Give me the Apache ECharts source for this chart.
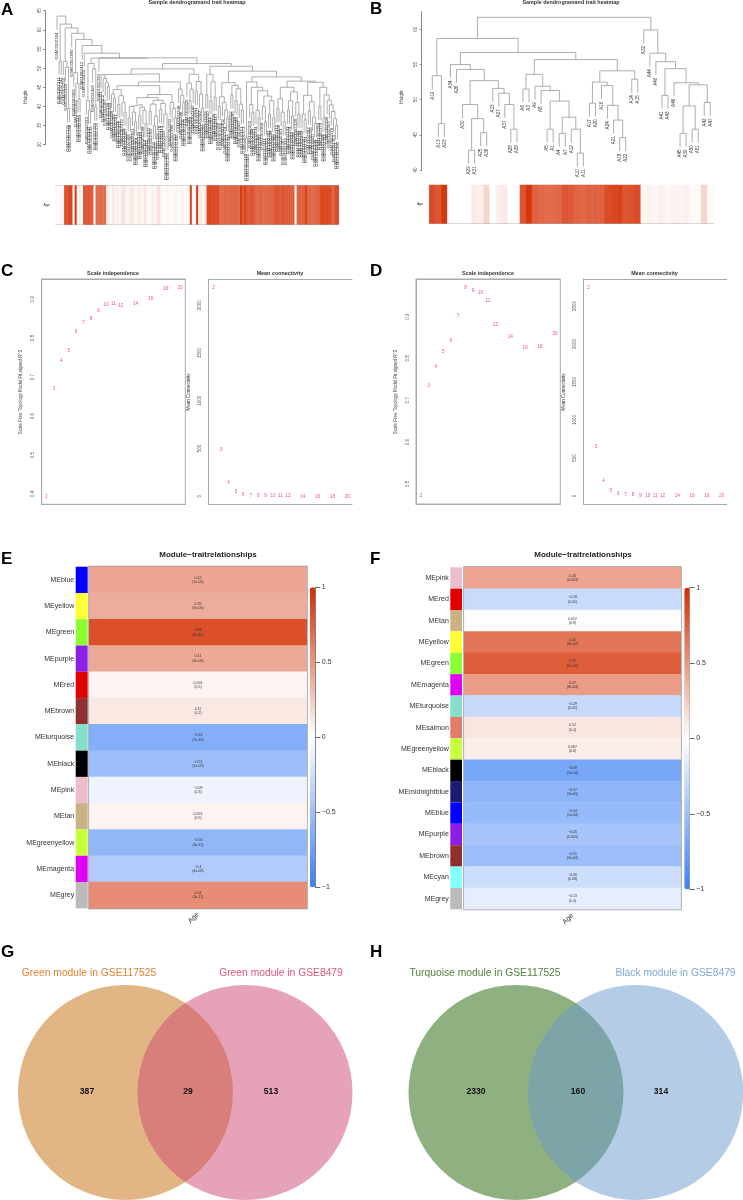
<!DOCTYPE html>
<html>
<head>
<meta charset="utf-8">
<style>
  html, body { margin: 0; padding: 0; background: #fff; }
  #main { width: 743px; height: 1200px; }
</style>
<script src="https://cdn.jsdelivr.net/npm/echarts@6/dist/echarts.min.js"></script>
</head>
<body>
<div id="main"></div>
<script>
// ---------- dendrogram A: [height, left, right], a bare number is a leaf (GSM3302xxx)
var a_s1 = [48.3, 321, [47.3, 352, [46.2, 367, [45.2, 299, 344]]]];
var a_p = [44.4, [43.2, 408, [42.2, 283, 391]], [42.8, [40.5, 336, 415], [41, 372, [38.5, 309, 427]]]];
var a_r1 = [42.3,
  [40.5, [40, [37, 358, 296], [38.5, 401, [36, 325, 384]]], [39.8, [37.6, 339, 410], [39, 288, [35.5, 364, 431]]]],
  [41.6, [40.6, [38.7, 307, 397], [37.4, [35, 350, 422], 291]], [40.8, [39.2, 378, 314], [38, 403, [32.1, 360, 335]]]]];
var a_r2 = [41, 293, [39.5, 386, [37, 319, 436]]];
var a_s3 = [44.5, 348, [42.9, 399, [41, 306, 375]]];
var a_a2 = [48.4, [46.1, 420, [44.5, [41.5, 285, 369], 340]], [46.5, [44, 413, 327], [43.2, 392, [39.6, 302, 355]]]];
var a_c1 = [48.4, [43, 434, 310], [46.4, [41.5, 381, 297], [42.4, 345, 417]]];
var a_c21 = [46.2,
  [42.5, [40, 289, 365], [41, 402, [39, 324, [37, 377, 430]]]],
  [45.5, [43, 312, 395], [44.6, [41.5, 338, 286], [40.6, 407, [39, 351, 373]]]]];
var a_d = [46.4, [31.9, 448, 441],
  [45, [40.5, 303, [38.5, 389, 423]],
    [44.1, [39, 334, [37, 416, 292]],
      [42.7, [40, 368, [36, 411, 322]], [41.5, [38, 383, 298], [37, 426, 349]]]]]];
var a_e1 = [45,
  [42, [39.5, 315, 400], [38.5, 361, [36, 287, 432]]],
  [43.8, [41.5, [39, 343, 374], [37.5, 409, 308]], [41, 328, [38, 390, 294]]]];
var a_e21 = [42.9, [38, 419, [36.5, 357, 301]], [41.2, [38.8, 382, 316], [37.2, 437, [35.6, 346, 404]]]];
var a_e22 = [45, [40, 284, 370], [43, [37, 428, 331], [41.6, 396, [40.4, 313, [38.7, 379, [36.8, 353, [35, 421, 290]]]]]]];

var treeA = [63.6, 304,
  [61.5, [51.9, 311, 342],
    [60.5, [51.8, 356, [50.2, 329, [39.5, 371, 388]]],
      [59.1, 380,
        [57.5, [48.8, 405, [46, 362, [42, 317, 394]]],
          [55.9, 412,
            [53.9, 425,
              [52.6,
                [51.2, [41.5, 333, [39, 347, 439]], [49.8, 418, [39.9, 300, 376]]],
                [52.7, 330,
                  [51.2,
                    [49.8,
                      [48.5, a_s1, [46.4, [45.4, a_p, [43.1, a_r1, a_r2]], a_s3]],
                      a_a2],
                    [50.5, a_c1, [49.2, a_c21, [47.7, a_d, [46.6, a_e1, [46.3, a_e21, a_e22]]]]]]]]]]]]]]];

// ---------- dendrogram B, leaves are sample names
var treeB = [61.7,
  [58.7, [53.4, 'A19', [46.6, 'A13', 'A23']],
    [56.7,
      [55, 'A34', [54.3, 'A26', [52.7,
        [49.3, 'A30', [47.3, [42.8, 'A29', 'A31'], [45.3, 'A25', 'A36']]],
        [51.6, 'A33', [50.9, 'A27', [49.3, 'A37', [45.8, 'A28', 'A38']]]]]]],
      [55.7,
        [53.6, [51.5, 'A6', 'A3'], [51.9, 'A9', [51.3, 'A8', [49.8, [45.8, 'A5', 'A1'],
          [47.5, [45.2, 'A4', 'A7'], [45.8, 'A12', [42.4, 'A10', 'A11']]]]]]],
        [54.1,
          [52.5, [49.5, 'A17', 'A20'], [52, 'A16', [49.2, 'A24', [47.1, 'A21', [44.6, 'A18', 'A22']]]]],
          [52.9, 'A14', 'A15']]]]],
  [59.9, 'A32', [56.6, 'A44', [55.4, 'A40', [54.4, [50.6, 'A41', 'A43'],
    [52.4, 'A46', [52.1, [49.1, [45.2, 'A45', 'A39'], [45.8, 'A50', 'A51']], [49.6, 'A42', 'A47']]]]]]]];

// ---------- age row below the dendrograms, one value per leaf
var ageA = [
  .03, .02, .05, .03, .85, .82, .9, .88, .02, .92,
  .03, .1, .02, .8, .78, .82, .8, .78, .03, .7,
  .68, .72, .66, .7, .1, .06, .04, .12, .05, .08,
  .03, .1, .14, .06, .04, .09, .12, .05, .03, .11,
  .07, .04, .13, .06, .02, .05, .09, .03, .12, .15,
  .04, .02, .03, .05, .02, .04, .03, .06, .02, .03,
  .05, .02, .04, .03, .88, .02, .05, .9, .08, .1,
  .05, .12, .85, .88, .84, .86, .82, .85, .72, .7,
  .74, .72, .7, .73, .71, .74, .72, .7, .95, .8,
  .92, .8, .78, .82, .8, .72, .7, .74, .72, .7,
  .73, .72, .75, .71, .78, .8, .78, .76, .8, .78,
  .78, .8, .76, .78, .02, .72, .74, .72, .74, .9,
  .72, .74, .7, .72, .74, .72, .85, .87, .84, .86,
  .85, .83, .72, .85, .87];
var ageB = [
  .85, .8, .95, .02, 0, 0, 0, .1, .08, .2,
  0, .08, .1, 0, 0, .8, .95, .75, .72, .7,
  .7, .72, .8, .78, .74, .72, .75, .74, .75, .85,
  .88, .9, .8, .82, .85, .03, .06, .04, .07, .04,
  .06, .05, .07, .04, .03, .2, .02];

// ---------- soft threshold panels
var powers = [2, 3, 4, 5, 6, 7, 8, 9, 10, 11, 12, 14, 16, 18, 20];
var fitC = [.394, .669, .743, .767, .817, .840, .851, .871, .885, .889, .883, .889, .902, .926, .929];
var connC = [2181, 492, 143, 49, 21, 10, 6, 4, 2, 1, 1, 0, 0, 0, 0];
var fitD = [.471, .734, .780, .816, .843, .903, .968, .963, .956, .939, .881, .852, .826, .828, .858];
var connD = [2736, 652, 201, 70, 35, 18, 13, 9, 5, 3, 2, 1, 1, 1, 1];
var fitTicksC = [.4, .5, .6, .7, .8, .9];
var connTicksC = [0, 500, 1000, 1500, 2000];
var fitTicksD = [.5, .6, .7, .8, .9];
var connTicksD = [0, 500, 1000, 1500, 2000, 2500];

// ---------- module trait heatmaps
var modsE = ['MEblue', 'MEyellow', 'MEgreen', 'MEpurple', 'MEred', 'MEbrown', 'MEturquoise', 'MEblack', 'MEpink', 'MEtan', 'MEgreenyellow', 'MEmagenta', 'MEgrey'];
var corE = [.42, .39, .83, .41, .056, .11, -.63, -.51, -.09, .053, -.56, -.4, .54];
var pE = ['1e-06', '6e-06', '4e-35', '3e-06', '0.5', '0.2', '1e-16', '1e-09', '0.3', '0.5', '3e-11', '4e-06', '5e-11'];
var colE = ['#0000ff', '#ffff33', '#8cff33', '#8c20e8', '#e00000', '#8f2f32', '#85dfcb', '#000000', '#efbccc', '#cbb283', '#c8ff3c', '#e000f5', '#bbbbbb'];

var modsF = ['MEpink', 'MEred', 'MEtan', 'MEyellow', 'MEgreen', 'MEmagenta', 'MEturquoise', 'MEsalmon', 'MEgreenyellow', 'MEblack', 'MEmidnightblue', 'MEblue', 'MEpurple', 'MEbrown', 'MEcyan', 'MEgrey'];
var corF = [.43, -.28, .012, .65, .77, .47, -.29, .12, .087, -.69, -.57, -.54, -.45, -.51, -.26, -.13];
var pF = ['0.003', '0.05', '0.9', '8e-07', '2e-10', '8e-04', '0.05', '0.4', '0.6', '1e-10', '3e-05', '1e-04', '0.001', '3e-04', '0.08', '0.4'];
var colF = ['#efbccc', '#e00000', '#cbb283', '#ffff33', '#8cff33', '#e000f5', '#85dfcb', '#e27d6e', '#c8ff3c', '#000000', '#1c1c70', '#0000ff', '#8c20e8', '#8f2f32', '#85ffff', '#bbbbbb'];
var barTicks = [-1, -.5, 0, .5, 1];

// ---------- venn counts: left only, shared, right only
var vennG = [387, 29, 513];
var vennH = [2330, 160, 314];

var FONT = 'Liberation Sans';
var GREY = '#999';
var grids = [], xAxes = [], yAxes = [], series = [], titles = [], graphics = [];

function text(str, x, y, size, color, bold, align) {
  titles.push({
    text: str, left: x, top: y, padding: 0, textAlign: align || 'center', textVerticalAlign: 'middle',
    textStyle: { fontFamily: FONT, fontSize: size, color: color, fontWeight: bold ? 'bold' : 'normal' }
  });
}
function vtext(str, x, y, size, color) {
  graphics.push({
    type: 'text', x: x, y: y, rotation: Math.PI / 2, silent: true,
    style: { text: str, fontFamily: FONT, fontSize: size, fill: color, textAlign: 'center', textVerticalAlign: 'middle' }
  });
}
function addGrid(box) {
  grids.push({ left: box[0], top: box[1], width: box[2], height: box[3], show: false });
  return grids.length - 1;
}
function addX(opt) { xAxes.push(opt); return xAxes.length - 1; }
function addY(opt) { yAxes.push(opt); return yAxes.length - 1; }
function lineOnly(color) {
  return { show: true, onZero: false, lineStyle: { color: color || GREY, width: 1 } };
}

// turn the nested tree into line segments and label anchors
function layoutTree(tree, hang) {
  var next = 0, lines = [], labels = [];
  function walk(node) {
    if (!Array.isArray(node)) return { x: next++, name: node };
    var l = walk(node[1]), r = walk(node[2]), h = node[0];
    var lb = l.h === undefined ? h - hang : l.h;
    var rb = r.h === undefined ? h - hang : r.h;
    if (l.h === undefined) labels.push([l.x, lb, l.name]);
    if (r.h === undefined) labels.push([r.x, rb, r.name]);
    lines.push([l.x, lb], [l.x, h], [r.x, h], [r.x, rb], ['-', '-']);
    return { x: (l.x + r.x) / 2, h: h };
  }
  walk(tree);
  return { lines: lines, labels: labels, count: next };
}

function dendroPanel(cfg) {
  var t = layoutTree(cfg.tree, cfg.hang);
  var g = addGrid(cfg.box);
  var xi = addX({ gridIndex: g, type: 'value', show: false, min: -0.5, max: t.count - 0.5 });
  var yi = addY({
    gridIndex: g, type: 'value', min: cfg.yMin, max: cfg.yMax, offset: cfg.axisOffset,
    axisLine: lineOnly('#888'), axisTick: { show: true, length: 2, lineStyle: { color: '#888' }, customValues: cfg.yTicks },
    axisLabel: { rotate: 90, fontSize: 4.5, color: '#555', margin: 3, fontFamily: FONT, customValues: cfg.yTicks },
    splitLine: { show: false }
  });
  series.push({
    type: 'line', xAxisIndex: xi, yAxisIndex: yi, data: t.lines, symbol: 'none', clip: false,
    connectNulls: false, silent: true, lineStyle: { color: '#999', width: 0.8 }
  });
  series.push({
    type: 'custom', xAxisIndex: xi, yAxisIndex: yi, data: t.labels, clip: false, silent: true,
    renderItem: function (params, api) {
      var p = api.coord([api.value(0), api.value(1)]);
      var name = t.labels[params.dataIndex][2];
      return {
        type: 'text', x: p[0], y: p[1] + cfg.labelGap, rotation: Math.PI / 2,
        style: {
          text: cfg.prefix + name, fontFamily: FONT, fontSize: cfg.labelSize, fill: '#333',
          textAlign: 'right', textVerticalAlign: 'middle'
        }
      };
    }
  });

  // age strip under the tree
  var cats = [];
  for (var i = 0; i < t.count; i++) cats.push(i);
  var g2 = addGrid(cfg.strip);
  var x2 = addX({
    gridIndex: g2, type: 'category', data: cats, axisLine: lineOnly('#aaa'),
    axisTick: { show: false }, axisLabel: { show: false }
  });
  addX({
    gridIndex: g2, type: 'category', data: cats, position: 'top', axisLine: lineOnly('#aaa'),
    axisTick: { show: false }, axisLabel: { show: false }
  });
  var y2 = addY({
    gridIndex: g2, type: 'category', data: ['Age'], axisLine: { show: false }, axisTick: { show: false },
    axisLabel: { fontSize: 3.6, color: '#333', margin: 6, fontFamily: FONT }
  });
  series.push({
    type: 'heatmap', xAxisIndex: x2, yAxisIndex: y2, silent: true,
    data: cfg.age.map(function (v, i) { return [i, 0, v]; })
  });
  return series.length - 1;
}

function thresholdPanel(cfg) {
  var g = addGrid(cfg.box);
  if (cfg.closed) { grids[g].show = true; grids[g].borderColor = '#aaa'; grids[g].borderWidth = 1; }
  var xi = addX({
    gridIndex: g, type: 'value', min: cfg.xr[0], max: cfg.xr[1], axisLine: lineOnly('#aaa'),
    axisTick: { show: false }, axisLabel: { show: false }, splitLine: { show: false }
  });
  addX({
    gridIndex: g, type: 'value', position: 'top', min: cfg.xr[0], max: cfg.xr[1], axisLine: lineOnly('#aaa'),
    axisTick: { show: false }, axisLabel: { show: false }, splitLine: { show: false }
  });
  var yi = addY({
    gridIndex: g, type: 'value', min: cfg.yr[0], max: cfg.yr[1], axisLine: lineOnly('#aaa'),
    axisTick: { show: false }, splitLine: { show: false },
    axisLabel: {
      rotate: 90, fontSize: 4.5, color: '#555', margin: 6, fontFamily: FONT, customValues: cfg.ticks,
      formatter: function (v) { return String(v); }
    }
  });
  series.push({
    type: 'scatter', xAxisIndex: xi, yAxisIndex: yi, silent: true, symbolSize: 1,
    itemStyle: { color: 'transparent' },
    data: powers.map(function (p, i) { return [p, cfg.vals[i]]; }),
    label: {
      show: true, position: 'inside', fontSize: 4.6, color: '#e6283c', fontFamily: FONT,
      formatter: function (d) { return d.value[0]; }
    }
  });
}

function modulePanel(cfg) {
  // colour strip with the module names
  var g1 = addGrid(cfg.stripBox);
  var x1 = addX({ gridIndex: g1, type: 'value', show: false, min: 0, max: 1 });
  var y1 = addY({
    gridIndex: g1, type: 'category', data: cfg.mods, inverse: true, axisLine: { show: false }, axisTick: { show: false },
    axisLabel: { fontSize: 7, color: '#333', margin: 1.5, fontFamily: FONT }
  });
  series.push({
    type: 'bar', xAxisIndex: x1, yAxisIndex: y1, barWidth: '100%', silent: true,
    data: cfg.colors.map(function (c) { return { value: 1, itemStyle: { color: c } }; })
  });
  // the correlation column
  var g2 = addGrid(cfg.box);
  grids[g2].show = true; grids[g2].borderColor = '#999'; grids[g2].borderWidth = 2;
  var x2 = addX({
    gridIndex: g2, type: 'category', data: ['Age'], axisLine: { show: false }, axisTick: { show: false },
    axisLabel: { rotate: 45, fontSize: 7, color: '#333', margin: 5, fontFamily: FONT }
  });
  var y2 = addY({
    gridIndex: g2, type: 'category', data: cfg.mods, inverse: true, axisLine: { show: false },
    axisTick: { show: false }, axisLabel: { show: false }
  });
  series.push({
    type: 'heatmap', xAxisIndex: x2, yAxisIndex: y2, silent: true,
    data: cfg.cor.map(function (v, i) { return [0, i, v]; }),
    label: {
      show: true, fontSize: 3.5, lineHeight: 4.4, color: '#333', fontFamily: FONT,
      formatter: function (d) {
        return String(cfg.cor[d.dataIndex]).replace('-', '\u2212') + '\n(' + cfg.p[d.dataIndex] + ')';
      }
    }
  });
  // ticks of the colour bar
  var g3 = addGrid(cfg.barBox);
  addX({ gridIndex: g3, type: 'value', show: false, min: 0, max: 1 });
  addY({
    gridIndex: g3, type: 'value', position: 'right', min: -1, max: 1, interval: 0.5,
    axisLine: lineOnly('#777'), axisTick: { show: true, length: 5, lineStyle: { color: '#666' } },
    splitLine: { show: false },
    axisLabel: {
      fontSize: 7, color: '#333', margin: 6.5, fontFamily: FONT, customValues: barTicks,
      formatter: function (v) { return String(v).replace('-', '\u2212'); }
    }
  });
  return series.length - 1;
}

function vennPanel(circles, colors, counts, countX, countY) {
  var g = addGrid([0, 0, 743, 1200]);
  var xi = addX({ gridIndex: g, type: 'value', show: false, min: 0, max: 743 });
  var yi = addY({ gridIndex: g, type: 'value', show: false, min: 0, max: 1200, inverse: true });
  circles.forEach(function (c, k) {
    series.push({
      type: 'custom', xAxisIndex: xi, yAxisIndex: yi, silent: true, clip: true, data: [c],
      renderItem: function (params, api) {
        var p = api.coord([api.value(0), api.value(1)]);
        var r = api.size([api.value(2), 0])[0];
        return { type: 'circle', shape: { cx: p[0], cy: p[1], r: r }, style: { fill: colors[k], opacity: 0.5 } };
      }
    });
  });
  counts.forEach(function (v, k) { text(String(v), countX[k], countY, 8.6, '#111', true); });
}

// panels A and B
var seriesA = dendroPanel({
  tree: treeA, hang: 3.6, box: [56, 10.7, 282.7, 134], yMin: 30, yMax: 65, axisOffset: 11,
  yTicks: [30, 35, 40, 45, 50, 55, 60, 65], prefix: 'GSM3302', labelGap: 2.6, labelSize: 4.4,
  strip: [56, 185.7, 282.7, 38.6], age: ageA
});
var seriesB = dendroPanel({
  tree: treeB, hang: 1.9, box: [429.3, 11.7, 284, 158.3], yMin: 40, yMax: 62.5, axisOffset: 7.6,
  yTicks: [40, 45, 50, 55, 60], prefix: '', labelGap: 2.6, labelSize: 4.6,
  strip: [429.3, 185, 284, 38.3], age: ageB
});

// panels C and D
thresholdPanel({ box: [41.7, 279, 143.6, 225.3], xr: [1.37, 20.67], yr: [.3735, .952], ticks: fitTicksC, vals: fitC, closed: true });
thresholdPanel({ box: [208.3, 279, 143.7, 225.3], xr: [1.28, 20.63], yr: [-84, 2275], ticks: connTicksC, vals: connC });
thresholdPanel({ box: [416, 279, 144.3, 225], xr: [1.33, 20.72], yr: [.452, .990], ticks: fitTicksD, vals: fitD, closed: true });
thresholdPanel({ box: [583.3, 279, 143.4, 225], xr: [1.28, 20.68], yr: [-105, 2855], ticks: connTicksD, vals: connD });

// panels E and F
var seriesE = modulePanel({
  mods: modsE, cor: corE, p: pE, colors: colE,
  stripBox: [75.7, 566.7, 12, 341.6], box: [89.3, 566.7, 217.4, 341.6], barBox: [310, 587.3, 5.3, 300]
});
var seriesF = modulePanel({
  mods: modsF, cor: corF, p: pF, colors: colF,
  stripBox: [450.3, 567.3, 11.7, 342], box: [464.3, 567.3, 216.4, 342], barBox: [684.3, 587.7, 5.4, 301.6]
});

// panels G and H, circles are x, y, radius in page units
vennPanel([[125.5, 1092.5, 107.5], [245, 1092.5, 107.5]], ['#c56b09', '#cd4771'], vennG, [87, 188, 271], 1092);
vennPanel([[516, 1092.5, 107.5], [635.7, 1092.5, 107.5]], ['#1f6101', '#6b99cd'], vennH, [476, 578, 661], 1092);

// titles, headers and rotated axis names
var letters = [['A', 1, 10], ['B', 370, 9], ['C', 1, 271], ['D', 370, 271], ['E', 1, 559], ['F', 370, 559], ['G', 1, 952], ['H', 370, 952]];
letters.forEach(function (l) { text(l[0], l[1], l[2], 17, '#000', true, 'left'); });
text('Sample dendrogramand trait heatmap', 197, 2.4, 5.4, '#333', true);
text('Sample dendrogramand trait heatmap', 571, 2.8, 5.4, '#333', true);
text('Scale independence', 113, 274, 5.4, '#333', true);
text('Mean connectivity', 280, 274, 5.4, '#333', true);
text('Scale independence', 488, 274, 5.4, '#333', true);
text('Mean connectivity', 654.5, 274, 5.4, '#333', true);
text('Module\u2212traitrelationships', 208, 554.5, 8, '#222', true);
text('Module\u2212traitrelationships', 583, 555, 8, '#222', true);
text('Green module in GSE117525', 89, 973, 10.3, '#e0822f');
text('Green module in GSE8479', 281, 973, 10.3, '#e0547a');
text('Turquoise module in GSE117525', 485, 973, 10.3, '#4f7f3a');
text('Black module in GSE8479', 675.5, 973, 10.3, '#7ea6d8');
vtext('Height', 26, 97, 4.6, '#444');
vtext('Height', 401.7, 97, 4.6, '#444');
vtext('Scale Free Topology Model Fit,signed R^2', 21, 392, 4.5, '#444');
vtext('Mean Connectivity', 189, 392, 4.5, '#333');
vtext('Scale Free Topology Model Fit,signed R^2', 396, 392, 4.5, '#444');
vtext('Mean Connectivity', 564, 392, 4.5, '#333');

var colorStops = ['#3d7ff5', '#ffffff', '#d42c00'];
var chart = echarts.init(document.getElementById('main'), null, { renderer: 'canvas' });
chart.setOption({
  backgroundColor: '#fff',
  animation: false,
  tooltip: { show: false },
  title: titles,
  grid: grids,
  xAxis: xAxes,
  yAxis: yAxes,
  visualMap: [
    {
      type: 'continuous', min: -1, max: 1, seriesIndex: [seriesA, seriesB, seriesE], left: 310, top: 587.3,
      itemWidth: 5.3, itemHeight: 300, padding: 0, calculable: false, hoverLink: false, inRange: { color: colorStops }
    },
    {
      type: 'continuous', min: -1, max: 1, seriesIndex: [seriesF], left: 684.3, top: 587.7,
      itemWidth: 5.4, itemHeight: 301.6, padding: 0, calculable: false, hoverLink: false, inRange: { color: colorStops }
    }
  ],
  graphic: graphics,
  series: series
});
</script>
</body>
</html>
